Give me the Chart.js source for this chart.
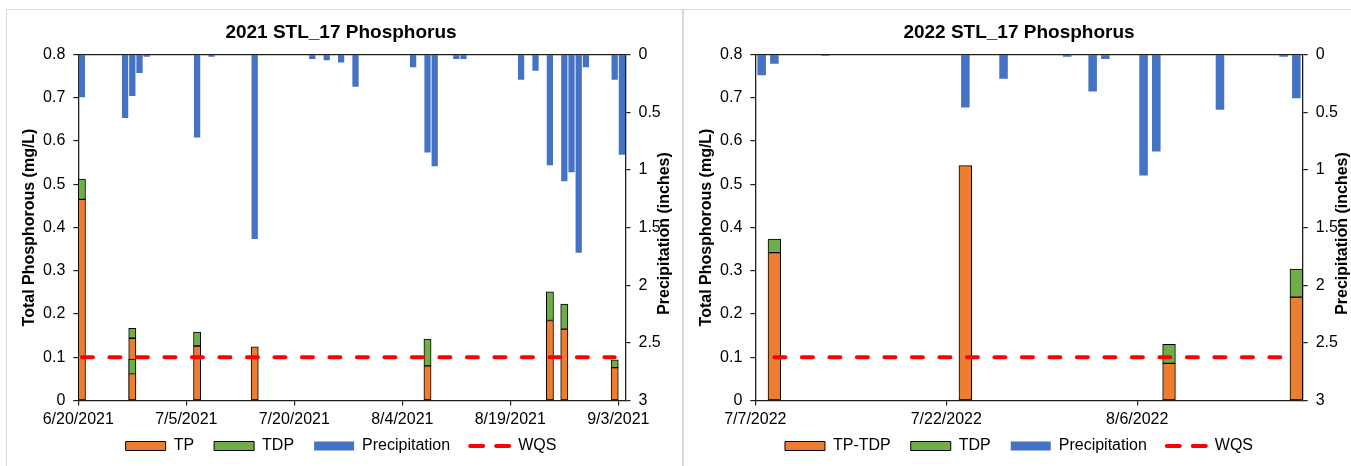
<!DOCTYPE html>
<html>
<head>
<meta charset="utf-8">
<title>STL_17 Phosphorus</title>
<script src="https://cdn.jsdelivr.net/npm/chart.js@4.4.1/dist/chart.umd.min.js"></script>
<style>
  html, body { margin: 0; padding: 0; background: #fff; overflow: hidden; }
  body { position: relative; width: 1351px; height: 466px; }
  .panel { position: absolute; top: 9px; height: 470px; border: 1px solid #d9d9d9; box-sizing: border-box; }
  #panel2021 { left: 6px; width: 677px; }
  #panel2022 { left: 683px; width: 700px; }
  canvas { position: absolute; top: 10px; }
  #chart2021 { left: 7px; }
  #chart2022 { left: 684px; }
</style>
</head>
<body>
<div class="panel" id="panel2021"></div>
<div class="panel" id="panel2022"></div>
<canvas id="chart2021" width="675" height="470"></canvas>
<canvas id="chart2022" width="675" height="470"></canvas>
<script>
// ---- 2021 season ----
const axisRange2021 = ['2021-06-20', '2021-09-04'];
const dateTicks2021 = ['2021-06-20', '2021-07-05', '2021-07-20', '2021-08-04', '2021-08-19', '2021-09-03'];
const precipDates2021 = ['2021-06-20', '2021-06-26', '2021-06-27', '2021-06-28', '2021-06-29', '2021-07-06',
  '2021-07-08', '2021-07-14', '2021-07-22', '2021-07-24', '2021-07-26', '2021-07-28', '2021-08-05',
  '2021-08-07', '2021-08-08', '2021-08-11', '2021-08-12', '2021-08-20', '2021-08-22', '2021-08-24',
  '2021-08-26', '2021-08-27', '2021-08-28', '2021-08-29', '2021-09-02', '2021-09-03'];
const precip2021 = [0.37, 0.55, 0.36, 0.16, 0.02, 0.72, 0.02, 1.6, 0.04, 0.05, 0.07, 0.28, 0.11,
  0.85, 0.97, 0.04, 0.04, 0.22, 0.14, 0.96, 1.1, 1.02, 1.72, 0.11, 0.22, 0.87];
// two samples were taken on 6/27
const sampleDates2021 = ['2021-06-20', '2021-06-27', '2021-06-27', '2021-07-06', '2021-07-14',
  '2021-08-07', '2021-08-24', '2021-08-26', '2021-09-02'];
const tp2021 = [0.465, 0.061, 0.144, 0.126, 0.124, 0.080, 0.185, 0.165, 0.076];
const tdp2021 = [0.047, 0.035, 0.023, 0.032, null, 0.062, 0.066, 0.058, 0.018];
const wqsDates2021 = ['2021-06-20', '2021-09-02'];
const wqs2021 = [0.1, 0.1];

// ---- 2022 season ----
const axisRange2022 = ['2022-07-07', '2022-08-19'];
const dateTicks2022 = ['2022-07-07', '2022-07-22', '2022-08-06'];
const precipDates2022 = ['2022-07-07', '2022-07-08', '2022-07-12', '2022-07-23', '2022-07-26', '2022-07-31',
  '2022-08-02', '2022-08-03', '2022-08-06', '2022-08-07', '2022-08-12', '2022-08-17', '2022-08-18'];
const precip2022 = [0.18, 0.08, 0.01, 0.46, 0.21, 0.02, 0.32, 0.04, 1.05, 0.84, 0.48, 0.02, 0.38];
const sampleDates2022 = ['2022-07-08', '2022-07-23', '2022-08-08', '2022-08-18'];
const tpTdp2022 = [0.342, 0.543, 0.086, 0.239];
const tdp2022 = [0.031, null, 0.044, 0.065];
const wqsDates2022 = ['2022-07-08', '2022-08-18'];
const wqs2022 = [0.1, 0.1];

const colors = {
  orange: '#ED7D31',
  green: '#70AD47',
  blue: '#4472C4',
  red: '#FF0000',
  axis: '#1f1f1f',
};

Chart.defaults.font.family = '"Liberation Sans", Arial, sans-serif';
Chart.defaults.font.size = 16;
Chart.defaults.color = '#000';

const DAY = 864e5;
function dayOf(date, start) {
  return (Date.parse(date) - Date.parse(start)) / DAY;
}
function fmtDate(start, offset) {
  const d = new Date(Date.parse(start) + offset * DAY);
  return (d.getUTCMonth() + 1) + '/' + d.getUTCDate() + '/' + d.getUTCFullYear();
}

// secondary axis title reads bottom-to-top, like the primary one
const rightAxisTitle = {
  id: 'rightAxisTitle',
  afterDraw(chart, args, opts) {
    const { ctx, chartArea } = chart;
    ctx.save();
    ctx.translate(chartArea.right + opts.offset, (chartArea.top + chartArea.bottom) / 2 + opts.shift);
    ctx.rotate(-Math.PI / 2);
    ctx.font = 'bold 16px "Liberation Sans", Arial, sans-serif';
    ctx.fillStyle = '#000';
    ctx.textAlign = 'center';
    ctx.textBaseline = 'middle';
    ctx.fillText(opts.text, 0, 0);
    ctx.restore();
  },
};

// the date labels need a tall box (they are clipped to it), so pull the legend row back up
const legendLift = {
  id: 'legendLift',
  afterLayout(chart, args, opts) {
    chart.legend.top -= opts.lift;
    chart.legend.bottom -= opts.lift;
  },
};

function buildChart(id, s) {
  const start = s.range[0];
  const end = dayOf(s.range[1], start);
  const at = (d) => dayOf(d, start) + 0.5; // bars sit in the middle of their day

  const lower = s.sampleDates.map((d, i) => ({ x: at(d), y: [0, s.tp[i]] }));
  const upper = s.sampleDates
    .map((d, i) => (s.tdp[i] == null ? null : { x: at(d), y: [s.tp[i], s.tp[i] + s.tdp[i]] }))
    .filter((p) => p);
  const rain = s.precipDates.map((d, i) => ({ x: at(d), y: s.precip[i] }));
  const wqs = s.wqsDates.map((d, i) => ({ x: at(d), y: s.wqs[i] }));

  const border = { display: true, color: colors.axis, width: 1.3 };
  const grid = { drawOnChartArea: false, drawTicks: true, tickLength: 5, color: colors.axis, lineWidth: 1.2, offset: false };

  return new Chart(document.getElementById(id), {
    type: 'bar',
    data: {
      datasets: [
        {
          label: s.tpLabel,
          data: lower,
          backgroundColor: colors.orange,
          borderColor: '#000',
          borderWidth: 1,
          borderSkipped: false,
          grouped: false,
          barPercentage: 1,
          categoryPercentage: 1,
          yAxisID: 'y',
          order: 2,
        },
        {
          label: 'TDP',
          data: upper,
          backgroundColor: colors.green,
          borderColor: '#000',
          borderWidth: 1,
          borderSkipped: false,
          grouped: false,
          barPercentage: 1,
          categoryPercentage: 1,
          yAxisID: 'y',
          order: 1,
        },
        {
          label: 'Precipitation',
          data: rain,
          backgroundColor: colors.blue,
          borderWidth: 0,
          grouped: false,
          barPercentage: s.precipBar,
          categoryPercentage: 1,
          yAxisID: 'y1',
          order: 3,
        },
        {
          type: 'line',
          label: 'WQS',
          data: wqs,
          borderColor: colors.red,
          backgroundColor: colors.red,
          borderWidth: 4,
          borderDash: [11, 16.5],
          borderCapStyle: 'round',
          pointRadius: 0,
          pointHoverRadius: 0,
          yAxisID: 'y',
          order: 0,
        },
      ],
    },
    options: {
      responsive: false,
      devicePixelRatio: 1,
      animation: false,
      events: [],
      layout: { padding: { left: 0, right: s.padRight, top: 0, bottom: 3.5 } },
      scales: {
        x: {
          type: 'linear',
          position: 'bottom',
          offset: false,
          min: 0,
          max: end,
          afterBuildTicks: (sc) => {
            sc.ticks = s.dateTicks.map((d) => ({ value: dayOf(d, start) }));
          },
          afterFit: (sc) => { sc.height = 30; },
          ticks: {
            callback: (v) => fmtDate(start, v),
            autoSkip: false,
            maxRotation: 0,
            padding: 4.4,
          },
          grid: grid,
          border: border,
        },
        x2: {
          type: 'linear',
          position: 'top',
          offset: false,
          min: 0,
          max: end,
          afterFit: (sc) => { sc.height = 0; },
          ticks: { display: false },
          grid: { display: false },
          border: border,
        },
        y: {
          type: 'linear',
          position: 'left',
          min: 0,
          max: 0.8,
          afterFit: (sc) => { sc.width = 71.3; },
          ticks: { stepSize: 0.1, padding: 8 },
          grid: grid,
          border: border,
          title: {
            display: true,
            text: 'Total Phosphorous (mg/L)',
            font: { size: 16, weight: 'bold', lineHeight: 1 },
            padding: { top: 15, bottom: 0 },
          },
        },
        y1: {
          type: 'linear',
          position: 'right',
          reverse: true,
          min: 0,
          max: 3,
          afterFit: (sc) => { sc.width = s.rightAxisWidth; },
          ticks: { stepSize: 0.5, padding: 8, callback: (v) => String(v) },
          grid: grid,
          border: border,
        },
      },
      plugins: {
        title: {
          display: true,
          text: s.title,
          color: '#000',
          font: { size: 19, weight: 'bold' },
          padding: { top: 11.6, bottom: 10.1 },
        },
        legend: {
          position: 'bottom',
          labels: {
            usePointStyle: true,
            pointStyleWidth: 40,
            boxHeight: 9,
            padding: 20,
            color: '#000',
            font: { size: 16 },
            sort: (a, b) => a.datasetIndex - b.datasetIndex,
            generateLabels(chart) {
              const items = Chart.defaults.plugins.legend.labels.generateLabels(chart);
              items.forEach((item) => {
                const ds = chart.data.datasets[item.datasetIndex];
                if (ds.type === 'line') {
                  item.pointStyle = 'line';
                  item.lineDash = [13, 13];
                  item.lineCap = 'round';
                  item.lineWidth = 4;
                  item.strokeStyle = ds.borderColor;
                } else {
                  item.pointStyle = 'rect';
                }
              });
              return items;
            },
          },
        },
        tooltip: { enabled: false },
        rightAxisTitle: { text: 'Precipitation (inches)', offset: 39.5, shift: 6 },
        legendLift: { lift: 12.5 },
      },
    },
    plugins: [rightAxisTitle, legendLift],
  });
}

buildChart('chart2021', {
  title: '2021 STL_17 Phosphorus',
  tpLabel: 'TP',
  range: axisRange2021,
  dateTicks: dateTicks2021,
  precipDates: precipDates2021,
  precip: precip2021,
  sampleDates: sampleDates2021,
  tp: tp2021,
  tdp: tdp2021,
  wqsDates: wqsDates2021,
  wqs: wqs2021,
  precipBar: 0.87,
  padRight: 7,
  rightAxisWidth: 49.5,
});

buildChart('chart2022', {
  title: '2022 STL_17 Phosphorus',
  tpLabel: 'TP-TDP',
  range: axisRange2022,
  dateTicks: dateTicks2022,
  precipDates: precipDates2022,
  precip: precip2022,
  sampleDates: sampleDates2022,
  tp: tpTdp2022,
  tdp: tdp2022,
  wqsDates: wqsDates2022,
  wqs: wqs2022,
  precipBar: 0.67,
  padRight: 5,
  rightAxisWidth: 51.3,
});
</script>
</body>
</html>
